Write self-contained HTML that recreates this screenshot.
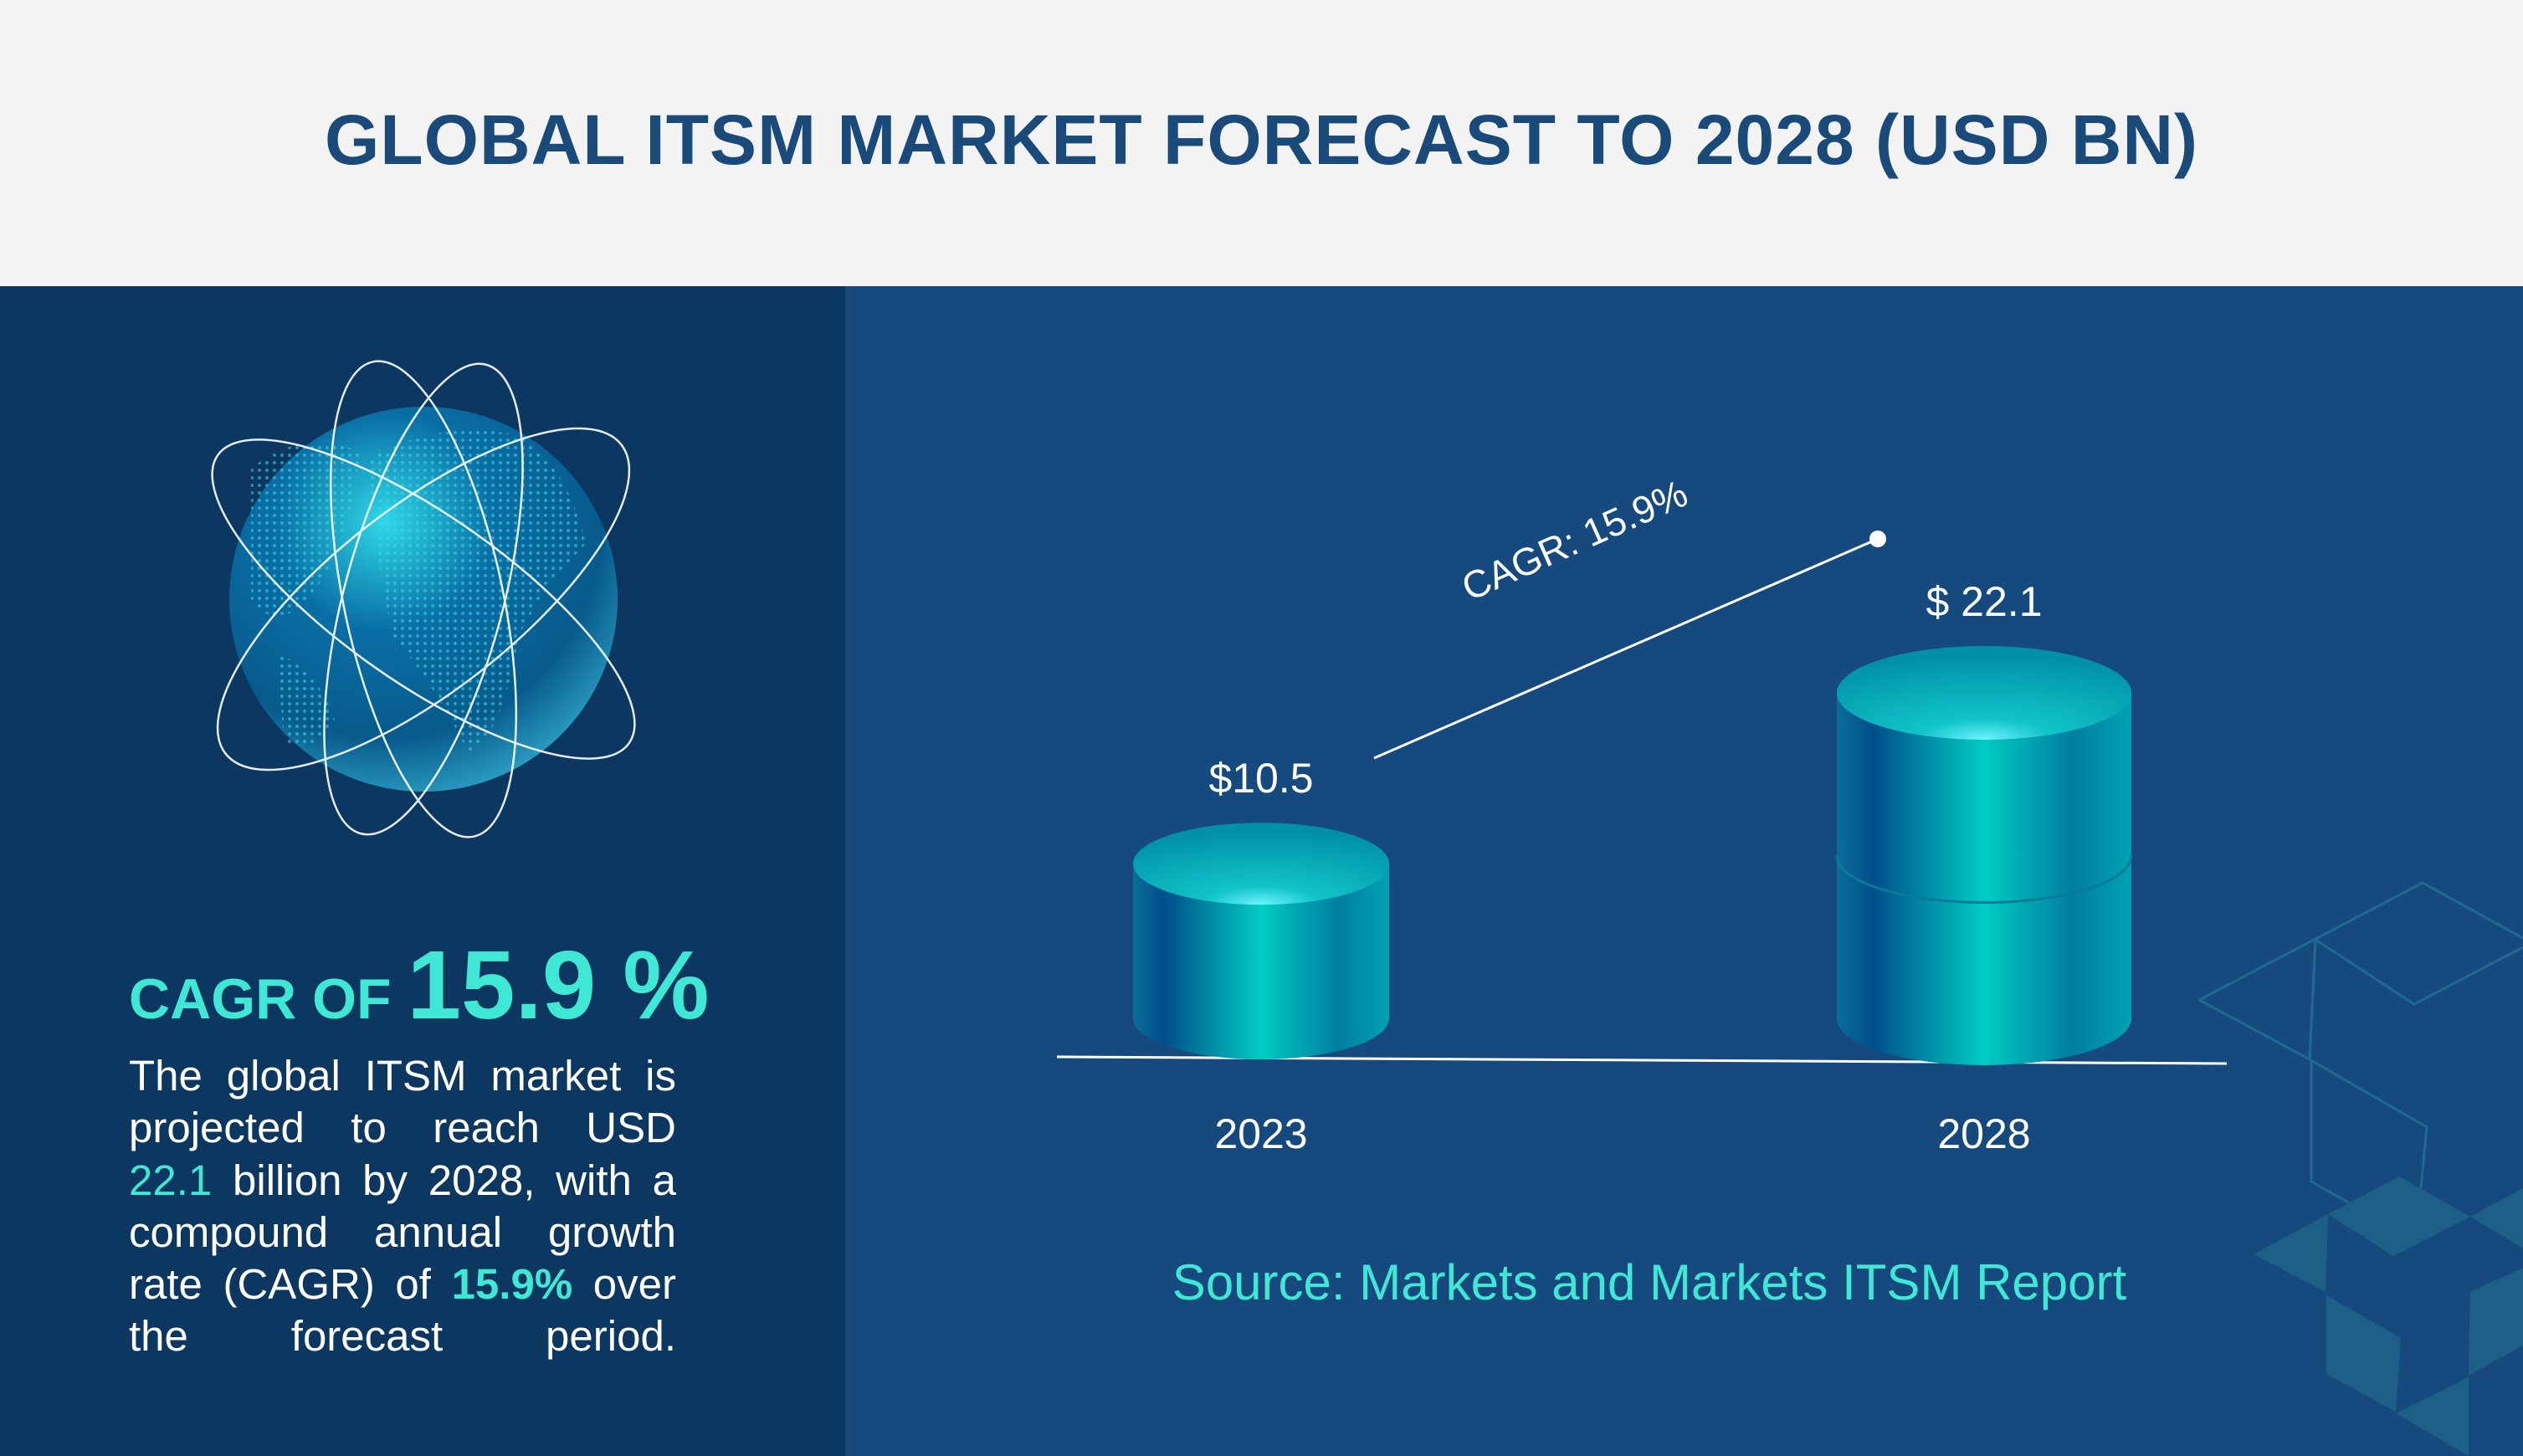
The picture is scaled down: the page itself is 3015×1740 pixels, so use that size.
<!DOCTYPE html>
<html><head><meta charset="utf-8"><style>
html,body{margin:0;padding:0}
body{width:3015px;height:1740px;position:relative;overflow:hidden;font-family:"Liberation Sans",sans-serif;background:#164a7e}
#header{position:absolute;left:0;top:0;width:3015px;height:342px;background:#f3f3f3}
#title{position:absolute;left:0;top:0;width:3015px;height:342px;line-height:334px;text-align:center;font-weight:bold;font-size:84px;color:#1a4a7a;letter-spacing:1px}
#left{position:absolute;left:0;top:342px;width:1010px;height:1398px;background:#0b3760}
#cagr{position:absolute;left:154px;top:1110px;color:#3ee8d5;font-weight:bold;white-space:nowrap}
#cagr .a{font-size:68px}
#cagr .b{font-size:116px}
#para{position:absolute;left:154px;top:1255px;width:654px;font-size:51px;line-height:62.3px;color:#fff}
#para div{text-align:justify;text-align-last:justify;white-space:nowrap;height:62.3px}
#para b{color:#3ee8d5;font-weight:bold}
#para .h{color:#3ee8d5}
</style></head><body>
<div id="header"></div>
<div id="title">GLOBAL ITSM MARKET FORECAST TO 2028 (USD BN)</div>
<div id="left"></div>
<svg style="position:absolute;left:0;top:0" width="3015" height="1740">
<defs>
<radialGradient id="gl" cx="0.4" cy="0.3" r="0.8">
<stop offset="0" stop-color="#2fd8e8"/><stop offset="0.35" stop-color="#0a6fa5"/><stop offset="0.7" stop-color="#075a8c"/><stop offset="1" stop-color="#39b8d8"/></radialGradient>
<pattern id="dots" width="9" height="9" patternUnits="userSpaceOnUse"><circle cx="4" cy="4" r="2" fill="#3cd8e8" opacity="0.8"/></pattern>
</defs>
<ellipse cx="506" cy="716" rx="232" ry="230" fill="url(#gl)"/>
<path d="M440 550 Q520 500 620 520 Q680 560 700 650 Q650 700 620 760 Q600 880 560 900 Q520 820 470 760 Q450 680 440 550Z M300 560 Q360 510 430 540 Q420 640 380 700 Q340 760 300 720Z M330 780 Q380 800 400 860 Q380 900 340 890Z" fill="url(#dots)" opacity="0.7"/>
<g fill="none" stroke="#fff" stroke-width="2.5" opacity="0.9">
<ellipse cx="506" cy="716" rx="300" ry="110" transform="rotate(-38 506 716)"/>
<ellipse cx="506" cy="716" rx="300" ry="100" transform="rotate(35 506 716)"/>
<ellipse cx="506" cy="716" rx="290" ry="95" transform="rotate(78 506 716)"/>
<ellipse cx="506" cy="716" rx="290" ry="95" transform="rotate(-75 506 716)"/>
</g>
</svg>
<div id="cagr"><span class="a">CAGR OF </span><span class="b">15.9 %</span></div>
<div id="para">
<div>The global ITSM market is</div>
<div>projected to reach USD</div>
<div><span class="h">22.1</span> billion by 2028, with a</div>
<div>compound annual growth</div>
<div>rate (CAGR) of <b>15.9%</b> over</div>
<div>the forecast period.</div>
</div>

<svg id="chart" style="position:absolute;left:0;top:0" width="3015" height="1740">
<defs>
<linearGradient id="side" x1="0" x2="1" y1="0" y2="0">
<stop offset="0" stop-color="#0a6e98"/><stop offset="0.12" stop-color="#004e8a"/><stop offset="0.5" stop-color="#00ccc2"/><stop offset="0.8" stop-color="#007ea2"/><stop offset="1" stop-color="#00a2b4"/></linearGradient>
<radialGradient id="top" cx="0.5" cy="1" r="0.9">
<stop offset="0" stop-color="#6ff3ff"/><stop offset="0.25" stop-color="#10c4c8"/><stop offset="1" stop-color="#0090a8"/></radialGradient>
</defs>
<g fill="none" stroke="#1e6a90" stroke-width="3">
<polyline points="2628,1195 2895,1055 3015,1121"/>
<polyline points="2767,1123 2885,1200 3015,1132"/>
<polyline points="2628,1195 2760,1266 2900,1347 2893,1420"/>
<polyline points="2767,1123 2760,1266"/>
<polyline points="2762,1268 2762,1412 2808,1438"/>
</g>
<g fill="#1e5f88">
<polygon points="2693,1499 2782,1451 2779,1544"/>
<polygon points="2782,1451 2867,1406 2952,1454 2860,1501"/>
<polygon points="2952,1454 3015,1420 3015,1492"/>
<polygon points="2780,1548 2869,1599 2863,1687 2780,1642"/>
<polygon points="2952,1544 3015,1515 3015,1608 2950,1644"/>
<polygon points="2863,1689 2950,1646 2950,1740"/>
</g>
<g id="marks"></g>
</svg>
<script>
const years = ['2023','2028'];
const values = [10.5, 22.1];
const valueLabels = ['$10.5','$ 22.1'];
const cagrLabel = 'CAGR: 15.9%';
const sourceText = 'Source: Markets and Markets ITSM Report';

const NS='http://www.w3.org/2000/svg';
const g=document.getElementById('marks');
const baseY=1217, pxPerUnit=17.6;
function yScale(v){return baseY - v*pxPerUnit;}
function xCenter(i){return 1507 + i*864;}
function mk(tag,attrs){const e=document.createElementNS(NS,tag);for(const k in attrs)e.setAttribute(k,attrs[k]);g.appendChild(e);return e;}
const widths=[153,176], rys=[49,56];
const bl=mk('line',{x1:1263,y1:1263,x2:2661,y2:1271,stroke:'#fff','stroke-width':3});


values.forEach((v,i)=>{
  const cx=xCenter(i), rx=widths[i], ry=rys[i], ty=yScale(v), by=baseY;
  const body=mk('path',{d:`M${cx-rx} ${ty} L${cx-rx} ${by} A${rx} ${ry} 0 0 0 ${cx+rx} ${by} L${cx+rx} ${ty} Z`,fill:'url(#side)'});
  
  
  if(v>15){
    const my=yScale(v/2);
    const seam=mk('path',{d:`M${cx-rx} ${my} A${rx} ${ry} 0 0 0 ${cx+rx} ${my}`,fill:'none',stroke:'#0a7a9a','stroke-width':3});
    
    
  }
  const top=mk('ellipse',{cx:cx,cy:ty,rx:rx,ry:ry,fill:'url(#top)'});
  
  
  const vl=mk('text',{x:cx,y:ty-ry-36,'text-anchor':'middle','font-size':50,fill:'#fff','font-family':'Liberation Sans, sans-serif'});
  vl.textContent=valueLabels[i];
  
  
  const xl=mk('text',{x:cx,y:1372,'text-anchor':'middle','font-size':50,fill:'#fff','font-family':'Liberation Sans, sans-serif'});
  xl.textContent=years[i];
  
  
});
const cl=mk('line',{x1:1642,y1:906,x2:2244,y2:644,stroke:'#fff','stroke-width':3});


const cd=mk('circle',{cx:2244,cy:644,r:10,fill:'#fff'});


const ct=mk('text',{x:0,y:0,'text-anchor':'middle','font-size':46,fill:'#fff','font-family':'Liberation Sans, sans-serif',transform:'translate(1888,660) rotate(-24)'});
ct.textContent=cagrLabel;


const st=mk('text',{x:1971,y:1553,'text-anchor':'middle','font-size':60,fill:'#3ee8d5','font-family':'Liberation Sans, sans-serif'});
st.textContent=sourceText;


</script>
</body></html>
